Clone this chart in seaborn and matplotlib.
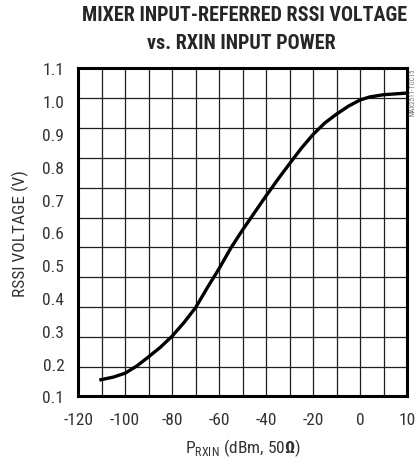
import numpy as np
import pandas as pd
import matplotlib
matplotlib.use("Agg")
import matplotlib.pyplot as plt
import seaborn as sns
from matplotlib.ticker import FixedLocator, NullFormatter

# values
power_dbm = [-111, -105, -100, -95, -90, -85, -80, -75, -70, -65, -60, -55,
             -50, -45, -40, -35, -30, -25, -20, -15, -10, -5, 0, 2, 5, 10]
rssi_v = [0.150, 0.159, 0.171, 0.193, 0.221, 0.250, 0.284, 0.325, 0.371,
          0.432, 0.490, 0.553, 0.608, 0.660, 0.712, 0.762, 0.810, 0.857,
          0.899, 0.934, 0.961, 0.985, 1.004, 1.013, 1.020, 1.025]

x_ticks = [-120, -100, -80, -60, -40, -20, 0, 10]
y_ticks = [0.1, 0.2, 0.3, 0.4, 0.5, 0.6, 0.7, 0.8, 0.9, 1.0, 1.1]

df = pd.DataFrame({"power": power_dbm, "rssi": rssi_v})

sns.set_style("white")
FONT = ["Roboto Condensed", "DejaVu Sans"]
plt.rcParams["font.family"] = FONT
plt.rcParams["mathtext.fontset"] = "custom"
plt.rcParams["mathtext.rm"] = "Roboto Condensed"
plt.rcParams["mathtext.bf"] = "Roboto Condensed:bold"


# the printed axis gives the 0..10 dBm span twice the width per dB
def fwd(x):
    x = np.asarray(x, dtype=float)
    return np.where(x > 0, 2 * x, x)


def inv(t):
    t = np.asarray(t, dtype=float)
    return np.where(t > 0, t / 2, t)


fig = plt.figure(figsize=(4.18, 4.6), dpi=100)
ax = fig.add_axes([0.187, 0.136, 0.787, 0.713])
ax.set_xscale("function", functions=(fwd, inv))

sns.lineplot(data=df, x="power", y="rssi", ax=ax, color="black",
             linewidth=2.4, solid_capstyle="butt")

ax.set_xlim(-120, 10)
ax.set_ylim(0.1, 1.1)

ax.xaxis.set_major_locator(FixedLocator(x_ticks))
ax.set_xticklabels([str(v) for v in x_ticks])
ax.yaxis.set_major_locator(FixedLocator(y_ticks))
ax.set_yticklabels([f"{v:.1f}" for v in y_ticks])

# grid: 14 columns and 11 rows as printed
ax.xaxis.set_minor_locator(FixedLocator(inv(np.arange(-110, 20, 10))))
ax.yaxis.set_minor_locator(FixedLocator(np.linspace(0.1, 1.1, 12)[1:-1]))
ax.xaxis.set_minor_formatter(NullFormatter())
ax.yaxis.set_minor_formatter(NullFormatter())
ax.grid(True, axis="x", which="both", color="0.12", linewidth=0.9)
ax.grid(True, axis="y", which="minor", color="0.12", linewidth=0.9)
ax.grid(False, axis="y", which="major")
ax.set_axisbelow(True)

ax.tick_params(which="both", length=0, labelsize=12.5, colors="#333333")
ax.tick_params(axis="x", pad=11)
ax.tick_params(axis="y", pad=10)

for s in ax.spines.values():
    s.set_visible(True)
    s.set_color("black")
    s.set_linewidth(2.2)

ax.set_xlabel(r"P$_{\mathrm{RXIN}}$ (dBm, 50$\mathbf{\Omega}$)", fontsize=12.5,
              color="#333333", labelpad=7)
ax.set_ylabel("RSSI VOLTAGE (V)", fontsize=12.5, color="#333333", labelpad=10)

fig.text(0.585, 0.967, "MIXER INPUT-REFERRED RSSI VOLTAGE", ha="center",
         va="center", fontsize=14.5, fontweight="bold", family=FONT)
fig.text(0.578, 0.906, "vs. RXIN INPUT POWER", ha="center", va="center",
         fontsize=14.5, fontweight="bold", family=FONT)
fig.text(0.988, 0.85, "MAX2511-TOC15", rotation=90, ha="center", va="top",
         fontsize=5, color="0.45", family=FONT)

fig.savefig("out.png", dpi=100)
